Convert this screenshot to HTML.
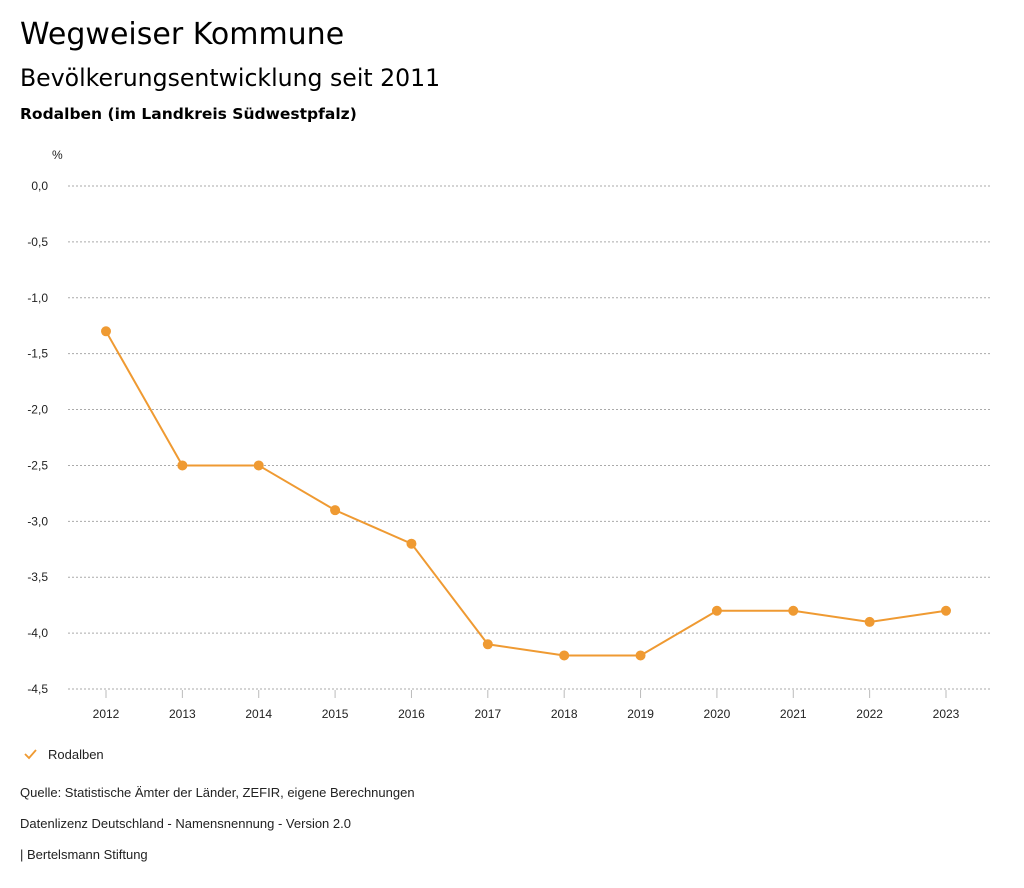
<!DOCTYPE html>
<html><head><meta charset="utf-8"><style>
body{margin:0;background:#fff;font-family:"Liberation Sans","DejaVu Sans",sans-serif;}
.wrap{position:relative;width:1024px;height:888px;overflow:hidden;}
.t{position:absolute;left:20px;color:#000;white-space:nowrap;}
.h{font-family:"DejaVu Sans","Liberation Sans",sans-serif;}
</style></head><body><div class="wrap">
<div class="t h" style="top:17px;font-size:30px;">Wegweiser Kommune</div>
<div class="t h" style="top:64px;font-size:23.6px;">Bevölkerungsentwicklung seit 2011</div>
<div class="t h" style="top:105px;font-size:15.5px;font-weight:600;">Rodalben (im Landkreis Südwestpfalz)</div>
<svg id="chart" width="1024" height="888" style="position:absolute;left:0;top:0"></svg>
<div class="t" style="top:785px;font-size:13px;color:#222">Quelle: Statistische Ämter der Länder, ZEFIR, eigene Berechnungen</div>
<div class="t" style="top:816px;font-size:13px;color:#222">Datenlizenz Deutschland - Namensnennung - Version 2.0</div>
<div class="t" style="top:847px;font-size:13px;color:#222">| Bertelsmann Stiftung</div>
</div>
<script>
const years = [2012,2013,2014,2015,2016,2017,2018,2019,2020,2021,2022,2023];
const values = [-1.3,-2.5,-2.5,-2.9,-3.2,-4.1,-4.2,-4.2,-3.8,-3.8,-3.9,-3.8];
const yTicks = [0,-0.5,-1,-1.5,-2,-2.5,-3,-3.5,-4,-4.5];
const seriesName = "Rodalben";
const C = "#ef9a32";
const svg = document.getElementById('chart');
const NS = "http://www.w3.org/2000/svg";
function y(v){return 186 + (0 - v) * (689-186)/4.5;}
function x(yr){return 106 + (yr - years[0]) * (946-106)/(years[years.length-1]-years[0]);}
function mk(tag, attrs){const e=document.createElementNS(NS,tag);for(const k in attrs)e.setAttribute(k,attrs[k]);svg.appendChild(e);return e;}
let t = mk('text',{x:52,y:159,'font-size':12,fill:'#222'}); t.textContent='%';


yTicks.forEach(v=>{
  const l = mk('line',{x1:68,x2:990,y1:y(v),y2:y(v),stroke:'#aaa','stroke-dasharray':'2,2','stroke-width':1});
  
  
  const tx = mk('text',{x:48,y:y(v)+4,'font-size':12,fill:'#222','text-anchor':'end'});
  tx.textContent = v.toFixed(1).replace('.',',');
  
  
});
years.forEach(yr=>{
  const l = mk('line',{x1:x(yr),x2:x(yr),y1:690,y2:698,stroke:'#bbb','stroke-width':1});
  
  
  const tx = mk('text',{x:x(yr),y:718,'font-size':12,fill:'#222','text-anchor':'middle'});
  tx.textContent = yr;
  
  
});
const pl = mk('polyline',{points:years.map((yr,i)=>x(yr)+','+y(values[i])).join(' '),fill:'none',stroke:C,'stroke-width':2});


years.forEach((yr,i)=>{
  const c = mk('circle',{cx:x(yr),cy:y(values[i]),r:5,fill:C});
  
  
});
const ck = mk('polyline',{points:'25,754 29,758 36,750',fill:'none',stroke:C,'stroke-width':1.8});


const lt = mk('text',{x:48,y:759,'font-size':13,fill:'#222'});
lt.textContent = seriesName;


</script>
</body></html>
